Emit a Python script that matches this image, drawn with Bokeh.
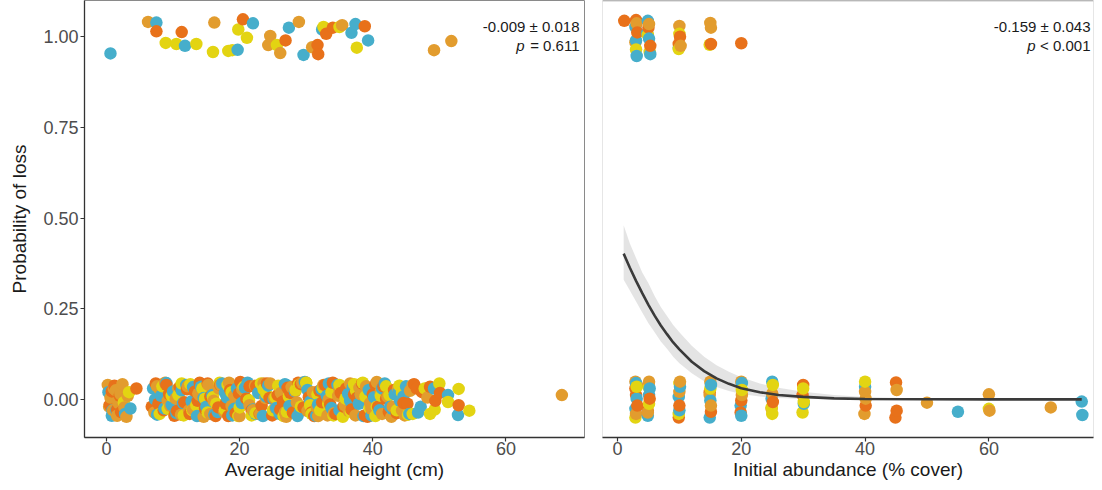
from bokeh.plotting import figure
from bokeh.models import Range1d, FixedTicker, Label, Span
from bokeh.layouts import row
from bokeh.embed import file_html
from bokeh.resources import INLINE

BLUE = "#46AECB"
ORANGE = "#E8711A"
GOLD = "#E29C2E"
YELLOW = "#E3D412"

# ---------------- Panel 1: Average initial height ----------------
h_top_blue_x = [0.6, 7.5, 11.8, 19.7, 22.0, 27.4, 29.6, 32.4, 36.8, 37.4, 39.3]
h_top_blue_y = [0.954, 1.039, 0.975, 0.964, 1.037, 1.025, 0.950, 1.020, 1.011, 1.035, 0.990]
h_top_orange_x = [7.5, 11.3, 20.5, 26.9, 31.7, 31.8, 33.0, 34.0, 38.8]
h_top_orange_y = [1.015, 1.013, 1.048, 0.990, 0.977, 0.952, 1.008, 1.025, 1.029]
h_top_gold_x = [6.25, 16.2, 24.6, 24.3, 26.1, 28.9, 30.9, 35.4, 49.2, 51.8]
h_top_gold_y = [1.041, 1.039, 1.002, 0.977, 0.955, 1.041, 0.971, 1.032, 0.963, 0.988]
h_top_yellow_x = [8.9, 10.5, 13.5, 16.0, 18.3, 18.9, 19.8, 21.1, 25.6, 32.6, 35.0, 37.6]
h_top_yellow_y = [0.983, 0.980, 0.980, 0.958, 0.961, 0.963, 1.020, 0.997, 0.977, 1.027, 1.027, 0.970]

h_bot_blue_x = [0.3, 0.8, 1.5, 2.8, 3.6, 7.0, 7.6, 8.2, 9.0, 9.8, 10.5, 11.3, 12.0, 12.8, 13.6,
                14.2, 15.0, 15.9, 16.7, 17.4, 18.1, 18.9, 19.6, 20.3, 21.2, 22.0, 22.8, 23.5, 24.3, 25.1,
                26.0, 26.8, 27.5, 28.3, 29.1, 29.8, 30.6, 31.5, 32.3, 33.1, 33.8, 34.7, 35.5, 36.3, 37.0,
                37.9, 38.6, 39.4, 40.2, 41.0, 41.8, 42.6, 43.3, 44.1, 45.0, 46.8, 49.8, 51.3, 52.8,
                0.9, 7.3, 8.7, 10.0, 11.5, 13.0, 14.6, 16.2, 17.8, 19.2, 20.8, 22.4, 24.0, 25.5, 27.0,
                28.7, 30.2, 31.8, 33.4, 35.0, 36.6, 38.2, 39.8, 41.4, 42.9, 43.9, 44.6, 45.5, 47.2, 49.2]
h_bot_blue_y = [0.020, -0.045, -0.030, -0.040, -0.025,
                0.030, -0.042, 0.010, 0.045, -0.015,
                -0.038, 0.025, 0.040, -0.005, -0.046,
                0.035, -0.020, 0.012, -0.035, 0.044,
                0.005, -0.044, 0.030, -0.010, 0.046,
                -0.028, 0.018, -0.046, 0.038, 0.000,
                -0.040, 0.042, -0.018, 0.022, -0.032,
                0.048, -0.006, -0.045, 0.028, 0.010,
                -0.024, 0.040, -0.040, 0.015, 0.033,
                -0.012, -0.046, 0.026, 0.006, -0.030,
                0.044, -0.020, 0.014, -0.004, 0.036,
                -0.036, 0.035, 0.012, -0.043,
                -0.030, 0.000, -0.025, 0.022, -0.010,
                0.034, 0.004, -0.042, 0.018, -0.026,
                0.032, -0.040, 0.008, -0.024, 0.040,
                -0.046, 0.026, -0.014, 0.044, -0.030,
                -0.004, 0.012, -0.044, 0.030, -0.026,
                0.020, 0.008, -0.040, -0.020, 0.030]
h_bot_orange_x = [0.5, 1.2, 2.2, 4.5, 6.8, 7.4, 8.6, 9.4, 10.2, 11.0, 11.7, 12.5, 13.3, 14.0, 14.8,
                  15.6, 16.4, 17.1, 17.9, 18.6, 19.4, 20.1, 21.0, 21.8, 22.5, 23.3, 24.1, 24.9, 25.7,
                  26.5, 27.2, 28.0, 28.8, 29.6, 30.4, 31.2, 32.0, 32.8, 33.6, 34.4, 35.2, 36.0, 36.8,
                  37.6, 38.4, 39.2, 40.0, 40.8, 41.6, 42.4, 43.2, 44.6, 46.2, 47.4, 48.6, 49.4, 52.9,
                  0.8, 1.6, 2.0, 7.8, 9.0, 10.6, 12.1, 13.7, 15.2, 16.8, 18.3, 19.9, 21.5, 23.0, 24.5,
                  26.1, 27.6, 29.2, 30.8, 32.4, 34.0, 35.6, 37.2, 38.8, 40.4, 42.0, 43.6, 45.2, 46.6, 50.1]
h_bot_orange_y = [-0.015, 0.038, -0.035, 0.030, -0.020,
                  0.044, -0.030, 0.015, -0.045, 0.034,
                  -0.008, -0.040, 0.022, 0.046, -0.026,
                  0.008, -0.046, 0.040, -0.012, 0.026,
                  -0.038, 0.048, 0.002, -0.030, 0.036,
                  -0.018, 0.044, -0.044, 0.012, -0.006,
                  0.032, -0.036, 0.046, -0.022, 0.006,
                  -0.046, 0.024, 0.040, -0.014, -0.040,
                  0.018, 0.030, -0.028, 0.004, 0.044,
                  -0.048, 0.014, -0.020, 0.036, -0.034,
                  0.026, -0.010, 0.042, 0.020, 0.035, -0.004, -0.016,
                  0.022, -0.028, 0.010, -0.012, 0.040,
                  -0.032, 0.028, -0.004, 0.044, -0.022,
                  -0.046, 0.016, 0.036, -0.040, 0.004,
                  -0.028, 0.018, 0.042, -0.036, -0.008,
                  0.046, -0.020, 0.014, -0.044, 0.040,
                  0.002, -0.038, -0.012, 0.030, 0.018]
h_bot_gold_x = [0.2, 0.6, 1.0, 1.4, 1.8, 2.4, 3.0, 3.2, 7.2, 8.0, 8.8, 9.6, 10.4, 11.2, 12.2,
                13.0, 13.8, 14.6, 15.3, 16.1, 16.9, 17.7, 18.4, 19.2, 20.0, 20.7, 21.5, 22.3, 23.1,
                23.9, 24.6, 25.4, 26.2, 27.0, 27.8, 28.6, 29.4, 30.2, 31.0, 31.8, 32.6, 33.4, 34.2,
                35.0, 35.8, 36.6, 37.4, 38.2, 39.0, 39.8, 40.6, 41.4, 42.2, 43.0, 43.8, 44.8, 45.6,
                48.2, 68.4,
                0.4, 1.1, 1.6, 2.1, 2.7, 7.6, 9.2, 10.8, 12.4, 14.0, 15.6, 17.2, 18.8, 20.4, 22.0,
                23.6, 25.2, 26.8, 28.4, 30.0, 31.6, 33.2, 34.8, 36.4, 38.0, 39.6, 41.2, 42.8, 44.4, 46.0]
h_bot_gold_y = [0.040, 0.005, -0.030, 0.025, -0.010,
                0.042, -0.048, 0.010, -0.036, 0.028,
                0.046, -0.018, 0.002, -0.042, 0.036,
                -0.028, 0.016, -0.048, 0.040, -0.004,
                0.030, -0.034, 0.046, 0.010, -0.046,
                0.022, -0.016, 0.038, -0.040, 0.004,
                0.044, -0.024, 0.018, -0.048, 0.034,
                -0.008, 0.046, -0.032, 0.020, -0.046,
                0.040, 0.000, -0.038, 0.028, -0.016,
                0.044, -0.044, 0.014, 0.036, -0.026,
                0.048, -0.040, 0.008, -0.020, 0.030,
                -0.044, 0.024, 0.005, 0.012,
                -0.020, 0.030, -0.045, 0.015, -0.022,
                0.036, -0.004, 0.030, -0.030, 0.012,
                -0.040, 0.040, -0.018, 0.028, -0.030,
                0.044, 0.004, -0.036, 0.024, 0.046,
                -0.022, -0.044, 0.010, -0.032, 0.032,
                -0.010, 0.022, -0.048, -0.030, 0.040]
h_bot_yellow_x = [2.6, 3.4, 8.4, 9.2, 10.8, 11.6, 12.6, 13.5, 14.4, 15.2, 16.0, 17.0, 17.8, 18.8,
                  19.8, 20.6, 21.4, 22.4, 23.2, 24.0, 25.0, 25.8, 26.6, 27.4, 28.4, 29.2, 30.0, 30.8,
                  31.7, 32.5, 33.3, 34.1, 35.0, 35.9, 36.7, 37.5, 38.5, 39.5, 40.4, 41.2, 42.0, 43.6,
                  44.4, 45.3, 47.8, 49.3, 51.3, 52.9, 54.5,
                  8.0, 9.8, 11.3, 12.9, 14.8, 16.5, 18.2, 20.0, 21.8, 23.6, 25.4, 27.1, 28.9, 30.6,
                  32.1, 33.8, 35.5, 37.2, 38.9, 40.6, 42.5, 44.0, 46.0, 48.6, 50.0]
h_bot_yellow_y = [-0.008, 0.020, 0.036, -0.026, 0.012,
                  -0.044, 0.042, -0.016, 0.030, -0.036,
                  0.006, 0.046, -0.028, 0.020, -0.046,
                  0.034, -0.002, -0.038, 0.044, 0.016,
                  -0.030, 0.038, -0.046, 0.008, 0.026,
                  -0.020, 0.046, -0.040, 0.014, 0.032,
                  -0.012, -0.044, 0.040, 0.002, -0.034,
                  0.024, 0.046, -0.024, -0.046, 0.010,
                  0.036, -0.030, 0.018, -0.042, 0.030,
                  -0.028, -0.007, 0.029, -0.031,
                  -0.040, 0.010, 0.044, -0.030, 0.002,
                  -0.012, 0.040, -0.022, -0.044, 0.028,
                  0.006, -0.034, 0.040, -0.016, -0.030,
                  0.020, -0.048, 0.042, 0.008, -0.020,
                  0.012, 0.038, -0.040, -0.040, 0.044]

# ---------------- Panel 2: Initial abundance ----------------
c_top_blue_x = [2.9, 3.1, 4.9, 5.1, 5.3, 3.0, 4.8, 9.9]
c_top_blue_y = [1.027, 0.947, 1.044, 0.995, 0.952, 0.990, 1.010, 0.970]
c_top_orange_x = [1.1, 3.0, 3.2, 5.0, 5.3, 10.1, 9.9, 15.1, 20.0]
c_top_orange_y = [1.044, 1.046, 1.012, 1.025, 0.975, 1.000, 0.980, 0.980, 0.982]
c_top_gold_x = [3.1, 2.9, 5.1, 10.0, 10.2, 15.0, 15.1]
c_top_gold_y = [1.037, 0.985, 1.035, 1.030, 0.975, 1.038, 1.025]
c_top_yellow_x = [3.0, 4.9, 5.2, 10.0, 9.9, 14.9]
c_top_yellow_y = [0.965, 1.005, 0.958, 1.008, 0.966, 0.978]

c_bot_blue_x = [3.1, 2.9, 3.0, 5.1, 4.9, 5.2, 10.1, 9.9, 10.0, 15.0, 14.9, 15.1, 20.1, 19.9, 20.0,
                25.0, 24.9, 30.1, 40.0, 55.0, 75.0, 75.1]
c_bot_blue_y = [0.002, -0.026, 0.045, 0.012, -0.045, 0.030, 0.035, 0.007, -0.030, -0.003, -0.050,
                0.040, 0.045, -0.017, -0.045, 0.049, 0.002, -0.012, 0.035, -0.034, -0.006, -0.043]
c_bot_orange_x = [3.0, 3.2, 2.9, 5.0, 5.2, 4.9, 10.0, 9.9, 15.1, 14.9, 20.0, 19.9, 25.1, 30.0, 29.9,
                  40.1, 45.0, 45.1, 44.9]
c_bot_orange_y = [0.012, -0.017, 0.030, 0.040, 0.002, -0.031, -0.017, -0.050, -0.034, 0.020, -0.003,
                  -0.036, -0.007, 0.040, 0.012, -0.017, 0.047, -0.031, -0.050]
c_bot_gold_x = [2.9, 3.0, 5.1, 4.9, 10.1, 10.0, 15.0, 14.9, 15.1, 20.0, 20.1, 25.0, 24.9, 40.0, 40.1,
                39.9, 45.1, 50.0, 60.0, 60.1, 70.0]
c_bot_gold_y = [0.049, -0.040, 0.049, -0.036, 0.049, 0.021, 0.049, 0.012, -0.017, 0.049, 0.012,
                0.016, -0.026, 0.021, 0.002, -0.040, 0.026, -0.009, 0.014, -0.031, -0.022]
c_bot_yellow_x = [3.1, 2.9, 5.0, 5.1, 10.0, 9.9, 15.0, 20.1, 25.1, 24.9, 25.0, 30.0, 30.1, 29.9,
                  40.0, 60.0]
c_bot_yellow_y = [0.035, -0.050, 0.035, -0.012, 0.045, -0.040, 0.030, 0.026, 0.040, -0.022, -0.040,
                  0.030, -0.007, -0.036, 0.049, -0.026]

# fitted logistic curve and its confidence band
fit_x = [1, 2, 3, 4, 5, 6, 7, 8, 9, 10, 12, 14, 16, 18, 20, 23, 26, 30, 35, 40, 50, 60, 75]
fit_y = [0.402, 0.363, 0.327, 0.293, 0.261, 0.231, 0.204, 0.180, 0.157, 0.138, 0.104, 0.078, 0.058,
         0.043, 0.031, 0.020, 0.012, 0.007, 0.003, 0.001, 0.0003, 0.0001, 0.0]
fit_lo = [0.330, 0.300, 0.270, 0.240, 0.210, 0.185, 0.160, 0.140, 0.118, 0.100, 0.072, 0.050, 0.034,
          0.023, 0.015, 0.008, 0.004, 0.0015, 0.0005, 0.0002, 0.0, 0.0, 0.0]
fit_hi = [0.480, 0.430, 0.390, 0.350, 0.320, 0.285, 0.255, 0.230, 0.205, 0.185, 0.148, 0.118, 0.094,
          0.076, 0.061, 0.044, 0.032, 0.021, 0.012, 0.007, 0.002, 0.0007, 0.0001]

y_ticks = [0.0, 0.25, 0.5, 0.75, 1.0]
y_tick_labels = ["0.00", "0.25", "0.50", "0.75", "1.00"]
x_ticks = [0, 20, 40, 60]
x_tick_labels = ["0", "20", "40", "60"]

stat1 = ["-0.009 \u00b1 0.018", "= 0.611"]
stat2 = ["-0.159 \u00b1 0.043", "< 0.001"]

FONT = "Liberation Sans"


def combine(groups):
    pts = []
    for xs, ys, col in groups:
        for a, b in zip(xs, ys):
            pts.append((a, b, col))
    pts.sort(key=lambda t: t[0])
    return dict(x=[t[0] for t in pts], y=[t[1] for t in pts], c=[t[2] for t in pts])


def style(p, show_y):
    p.grid.visible = False
    p.background_fill_color = "white"
    p.border_fill_color = "white"
    for ax in p.xaxis:
        ax.ticker = FixedTicker(ticks=x_ticks)
        ax.major_label_overrides = {t: l for t, l in zip(x_ticks, x_tick_labels)}
    for ax in [p.xaxis[0]] + ([p.yaxis[0]] if show_y else []):
        ax.axis_line_color = "#333333"
        ax.axis_line_width = 1.3
        ax.major_tick_line_color = "#333333"
        ax.major_tick_line_width = 1.2
        ax.major_tick_in = 0
        ax.major_tick_out = 4
        ax.minor_tick_line_color = None
        ax.major_label_text_font = FONT
        ax.major_label_text_font_size = "18px"
        ax.major_label_text_color = "#4D4D4D"
        ax.axis_label_text_font = FONT
        ax.axis_label_text_font_size = "19px"
        ax.axis_label_text_font_style = "normal"
        ax.axis_label_text_color = "#1A1A1A"
    p.xaxis.major_label_standoff = 0
    p.xaxis.axis_label_standoff = 1


yr = Range1d(-0.105, 1.10)

p1 = figure(width=593, height=482, x_range=Range1d(-3.3, 71.8), y_range=yr,
            output_backend="svg", toolbar_location=None,
            min_border_left=84, min_border_right=9, min_border_top=0, min_border_bottom=40,
            x_axis_label="Average initial height (cm)", y_axis_label="Probability of loss")
p1.outline_line_color = "#8A8A8A"
p1.outline_line_width = 1
style(p1, True)
p1.yaxis.ticker = FixedTicker(ticks=y_ticks)
p1.yaxis.major_label_overrides = {t: l for t, l in zip(y_ticks, y_tick_labels)}
p1.yaxis.major_label_standoff = 2
p1.yaxis.axis_label_standoff = 10

d1 = combine([
    (h_bot_blue_x, h_bot_blue_y, BLUE), (h_bot_orange_x, h_bot_orange_y, ORANGE),
    (h_bot_gold_x, h_bot_gold_y, GOLD), (h_bot_yellow_x, h_bot_yellow_y, YELLOW),
    (h_top_blue_x, h_top_blue_y, BLUE), (h_top_orange_x, h_top_orange_y, ORANGE),
    (h_top_gold_x, h_top_gold_y, GOLD), (h_top_yellow_x, h_top_yellow_y, YELLOW),
])
p1.scatter(x="x", y="y", color="c", source=d1, size=12.5, line_color=None, alpha=1.0)

p2 = figure(width=501, height=482, x_range=Range1d(-2.42, 76.9), y_range=yr,
            output_backend="svg", toolbar_location=None,
            min_border_left=9, min_border_right=1, min_border_top=0, min_border_bottom=40,
            x_axis_label="Initial abundance (% cover)")
p2.outline_line_color = "#E6E6E6"
p2.outline_line_width = 1
p2.yaxis.visible = False
style(p2, False)
p2.add_layout(Span(location=yr.end, dimension="width", line_color="#8A8A8A", line_width=1.5))

p2.varea(x=fit_x, y1=fit_lo, y2=fit_hi, fill_color="#D9D9D9", fill_alpha=0.7)
d2 = combine([
    (c_bot_blue_x, c_bot_blue_y, BLUE), (c_bot_orange_x, c_bot_orange_y, ORANGE),
    (c_bot_gold_x, c_bot_gold_y, GOLD), (c_bot_yellow_x, c_bot_yellow_y, YELLOW),
    (c_top_blue_x, c_top_blue_y, BLUE), (c_top_orange_x, c_top_orange_y, ORANGE),
    (c_top_gold_x, c_top_gold_y, GOLD), (c_top_yellow_x, c_top_yellow_y, YELLOW),
])
p2.scatter(x="x", y="y", color="c", source=d2, size=12.5, line_color=None, alpha=1.0)
p2.line(fit_x, fit_y, line_color="#3A3A3A", line_width=2.6)


def add_stats(p, xr, dx, lines):
    kw = dict(text_font=FONT, text_font_size="15px", text_color="#1A1A1A",
              text_align="right", text_baseline="middle")
    p.add_layout(Label(x=xr.end, x_offset=dx, y=yr.end, y_offset=-26, text=lines[0], **kw))
    p.add_layout(Label(x=xr.end, x_offset=dx, y=yr.end, y_offset=-45, text=lines[1], **kw))
    p.add_layout(Label(x=xr.end, x_offset=dx - 55, y=yr.end, y_offset=-45, text="p",
                       text_font_style="italic", **kw))


add_stats(p1, p1.x_range, -5, stat1)
add_stats(p2, p2.x_range, -3, stat2)

layout = row(p1, p2)
open("out.html", "w").write(file_html(layout, INLINE))
